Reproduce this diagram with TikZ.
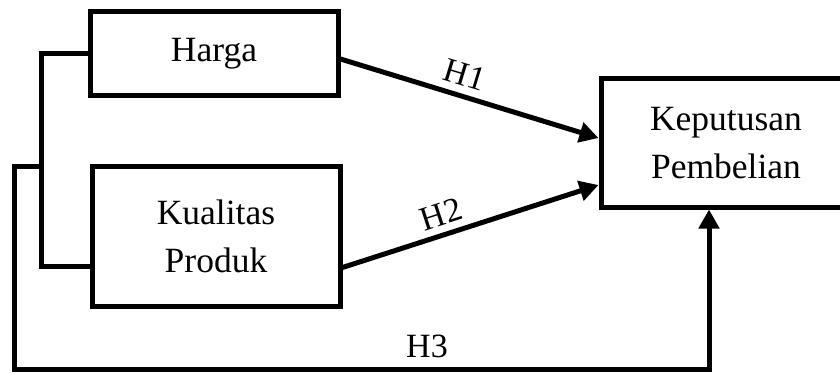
\documentclass[tikz,border=0pt]{standalone}
\usepackage{fontspec}
\setmainfont{Liberation Serif}
\usetikzlibrary{arrows.meta}
\begin{document}
\begin{tikzpicture}[x=1pt,y=-1pt,
  box/.style={draw,line width=5pt,rectangle,inner sep=0pt,align=center,
    font=\fontsize{35.5}{47.5}\selectfont},
  conn/.style={line width=5pt},
  arr/.style={line width=5pt,-{Triangle[length=19pt,width=20pt]}},
  hlab/.style={font=\fontsize{34}{40}\selectfont,inner sep=0pt}]
\clip (0,0) rectangle (840,374);
\useasboundingbox (0,0) rectangle (840,374);
\node[box,minimum width=248pt,minimum height=84pt] (harga) at (214,54) {Harga};
\node[box,minimum width=248pt,minimum height=139pt] (kual) at (216,236.5) {Kualitas\\Produk};
\node[box,minimum width=250pt,minimum height=128pt] (kep) at (726,143) {Keputusan\\Pembelian};
% bracket
\coordinate (jt) at (41,54);
\coordinate (j) at (41,167);
\draw[conn] (harga.west) -- (jt) |- ([yshift=-30pt]kual.west);
% outer H3 path
\coordinate (oc) at (14,167);
\coordinate (ob) at (14,369);
\draw[arr] (j) -- (oc) -- (ob) -| ([xshift=-17pt]kep.south);
\node[hlab] (h3) at (427,346) {H3};
% H1, H2
\draw[arr] ([yshift=-5pt]harga.east) -- ([yshift=5pt]kep.west);
\node[hlab,rotate=-17] (h1) at (465,75) {H1};
\draw[arr] ([yshift=-31pt]kual.east) -- ([yshift=-42pt]kep.west);
\node[hlab,rotate=18] (h2) at (441,214) {H2};
\end{tikzpicture}
\end{document}
